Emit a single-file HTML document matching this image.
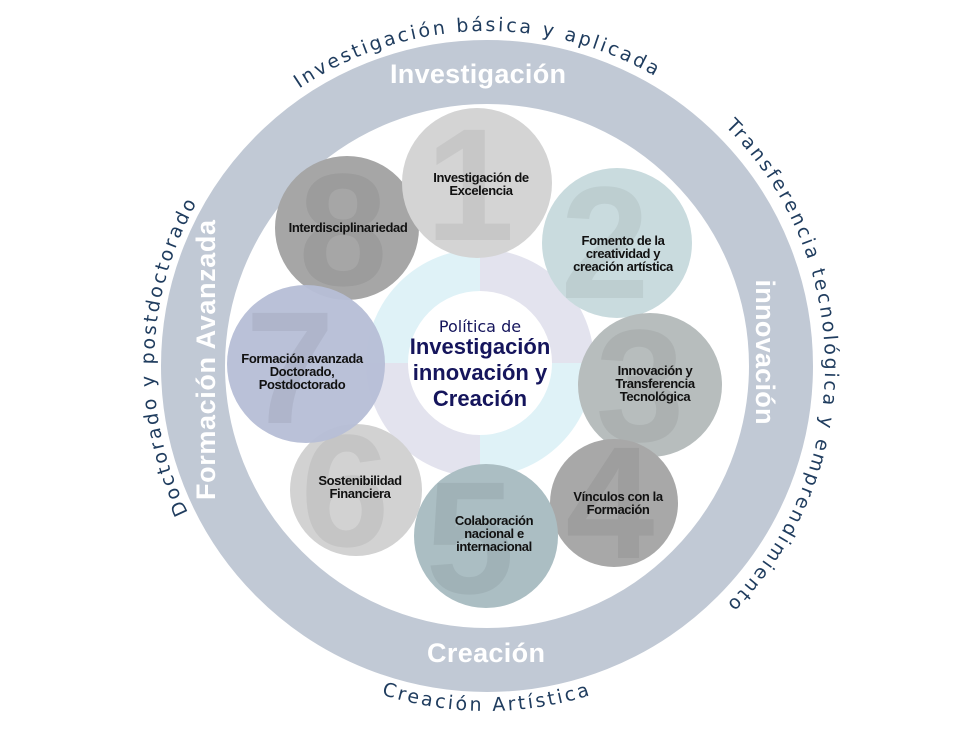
<!DOCTYPE html>
<html><head><meta charset="utf-8"><style>
html,body{margin:0;padding:0;background:#fff;}
svg{display:block}
.ct{font-family:"Liberation Sans Narrow","Liberation Sans",sans-serif;font-weight:bold;font-size:13px;fill:#111;text-anchor:middle;letter-spacing:-0.4px}
.num{font-family:"Liberation Sans",sans-serif;font-weight:bold;font-size:160px;text-anchor:middle;opacity:0.055;fill:#000}
.ot{font-family:"DejaVu Sans","Liberation Sans",sans-serif;font-size:19px;fill:#1f3c5e;letter-spacing:2.6px}
.rl{font-family:"Liberation Sans",sans-serif;font-weight:bold;font-size:27px;fill:#fff;text-anchor:middle}
.tt{font-family:"Liberation Sans Narrow","Liberation Sans",sans-serif;font-weight:bold;fill:#15155c;text-anchor:middle}
</style></head><body>
<svg width="972" height="729" viewBox="0 0 972 729" xmlns="http://www.w3.org/2000/svg">
<defs>
<path id="pTop" d="M152,366 A335,335 0 0 1 822,366"/>
<path id="pRight" d="M487,28 A338,338 0 0 1 487,704"/>
<path id="pLeft" d="M487,699 A333,333 0 0 1 487,33"/>
<path id="pBot" d="M142,366 A345,345 0 0 0 832,366"/>
</defs>
<circle cx="487" cy="366" r="294" fill="none" stroke="#c1c9d5" stroke-width="64"/>

<text class="ot"><textPath href="#pTop" startOffset="49%" text-anchor="middle">Investigación básica y aplicada</textPath></text>
<text class="ot"><textPath href="#pRight" startOffset="50%" text-anchor="middle">Transferencia tecnológica y emprendimiento</textPath></text>
<text class="ot"><textPath href="#pLeft" startOffset="51%" text-anchor="middle">Doctorado y postdoctorado</textPath></text>
<text class="ot"><textPath href="#pBot" startOffset="50%" text-anchor="middle">Creación Artística</textPath></text>

<text class="rl" x="478" y="83" textLength="176">Investigación</text>
<text class="rl" x="486" y="662" textLength="118">Creación</text>
<text class="rl" transform="translate(756,352) rotate(90)" textLength="145">innovación</text>
<text class="rl" transform="translate(215,360) rotate(-90)" textLength="280">Formación Avanzada</text>

<g fill="none" stroke-width="42">
<path d="M387,363 A93,93 0 0 1 480,270" stroke="#dff2f7"/>
<path d="M480,270 A93,93 0 0 1 573,363" stroke="#e3e3ee"/>
<path d="M573,363 A93,93 0 0 1 480,456" stroke="#dff2f7"/>
<path d="M480,456 A93,93 0 0 1 387,363" stroke="#e3e3ee"/>
</g>
<circle cx="480" cy="363" r="70" fill="#fff"/>
<text class="tt" x="480" y="332" font-size="16" style="font-family:'DejaVu Sans',sans-serif;font-weight:normal">Política de</text>
<text class="tt" x="480" y="354" font-size="22">Investigación</text>
<text class="tt" x="480" y="380" font-size="22">innovación y</text>
<text class="tt" x="480" y="406" font-size="22">Creación</text>

<circle cx="347" cy="228" r="72" fill="#a6a6a6"/><text class="num" x="343" y="285">8</text>
<circle cx="477" cy="183" r="75" fill="#d4d4d4"/><text class="num" x="470" y="240">1</text>
<circle cx="617" cy="243" r="75" fill="#c9dbde"/><text class="num" x="605" y="298">2</text>
<circle cx="650" cy="385" r="72" fill="#b7bdbd"/><text class="num" x="640" y="441">3</text>
<circle cx="356" cy="490" r="66" fill="#d2d2d2"/><text class="num" x="345" y="546">6</text>
<circle cx="614" cy="503" r="64" fill="#a8a8a8"/><text class="num" x="610" y="558">4</text>
<circle cx="486" cy="536" r="72" fill="#abbec3"/><text class="num" x="470" y="593">5</text>
<circle cx="306" cy="364" r="79" fill="#b6bed6" fill-opacity="0.95"/><text class="num" x="290" y="423">7</text>

<text class="ct" x="481" y="182">Investigación de</text>
<text class="ct" x="481" y="195">Excelencia</text>
<text class="ct" x="348" y="232">Interdisciplinariedad</text>
<text class="ct" x="623" y="245">Fomento de la</text>
<text class="ct" x="623" y="258">creatividad y</text>
<text class="ct" x="623" y="271">creación artística</text>
<text class="ct" x="302" y="363">Formación avanzada</text>
<text class="ct" x="302" y="376">Doctorado,</text>
<text class="ct" x="302" y="389">Postdoctorado</text>
<text class="ct" x="655" y="375">Innovación y</text>
<text class="ct" x="655" y="388">Transferencia</text>
<text class="ct" x="655" y="401">Tecnológica</text>
<text class="ct" x="360" y="485">Sostenibilidad</text>
<text class="ct" x="360" y="498">Financiera</text>
<text class="ct" x="494" y="525">Colaboración</text>
<text class="ct" x="494" y="538">nacional e</text>
<text class="ct" x="494" y="551">internacional</text>
<text class="ct" x="618" y="501">Vínculos con la</text>
<text class="ct" x="618" y="514">Formación</text>
</svg>
</body></html>
